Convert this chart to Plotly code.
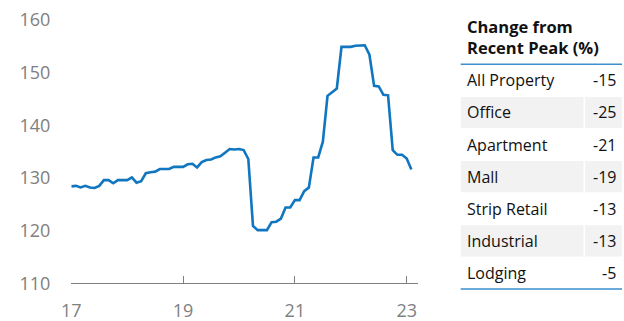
import plotly.graph_objects as go

# Monthly index values, Jan 2017 through Feb 2023
start_year = 2017
index_values = [
    128.4, 128.5, 128.2, 128.5, 128.2, 128.1, 128.5, 129.6, 129.6, 129.0, 129.6, 129.6,
    129.6, 130.1, 129.1, 129.4, 130.9, 131.1, 131.2, 131.7, 131.7, 131.7, 132.1, 132.1,
    132.1, 132.6, 132.7, 132.0, 133.0, 133.4, 133.5, 133.9, 134.1, 134.8, 135.5, 135.4,
    135.5, 135.3, 133.6, 120.9, 120.1, 120.1, 120.1, 121.6, 121.7, 122.3, 124.4, 124.4,
    125.8, 125.8, 127.5, 128.2, 133.9, 133.9, 136.9, 145.6, 146.3, 147.0, 154.9, 154.9,
    154.9, 155.1, 155.2, 155.2, 153.4, 147.5, 147.4, 145.8, 145.7, 135.3, 134.4, 134.4,
    133.7, 131.6,
]
x_years = [start_year + i / 12 for i in range(len(index_values))]

x_tick_vals = [2017, 2019, 2021, 2023]
x_tick_text = ["17", "19", "21", "23"]
y_tick_vals = [110, 120, 130, 140, 150, 160]

# Side table
table_title = "Change from<br>Recent Peak (%)"
sectors = ["All Property", "Office", "Apartment", "Mall", "Strip Retail", "Industrial", "Lodging"]
changes = [-15, -25, -21, -19, -13, -13, -5]

W, H = 624, 321
LINE_BLUE = "#0f76bf"
RULE_BLUE = "#3a8fd0"
GREY = "#808080"
FONT = "Open Sans"

def py(px):
    """Convert a pixel row (from top) to paper y."""
    return 1 - px / H

def pxx(px):
    return px / W

fig = go.Figure()
fig.add_trace(go.Scatter(
    x=x_years, y=index_values, mode="lines",
    line=dict(color=LINE_BLUE, width=2.6),
    hoverinfo="skip",
))

x0_px, x_tick23_px, x1_px = 71.3, 406.7, 417.7
px_per_year = (x_tick23_px - x0_px) / 6
x_end = 2017 + (x1_px - x0_px) / px_per_year

fig.update_layout(
    width=W, height=H,
    margin=dict(l=0, r=0, t=0, b=0),
    paper_bgcolor="white", plot_bgcolor="white",
    showlegend=False,
    font=dict(family=FONT, color=GREY, size=18),
    xaxis=dict(
        domain=[pxx(x0_px), pxx(x1_px)],
        range=[2017, x_end],
        automargin=False,
        tickvals=x_tick_vals, ticktext=x_tick_text,
        ticks="inside", ticklen=7, tickcolor=GREY, tickwidth=1,
        showline=True, linecolor=GREY, linewidth=1,
        showgrid=False, zeroline=False,
        tickfont=dict(size=18, color=GREY, family=FONT),
        ticklabelstandoff=11,
    ),
    yaxis=dict(
        domain=[py(283.3), py(20)],
        range=[110, 160],
        automargin=False,
        tickvals=y_tick_vals,
        ticks="", showline=False, showgrid=False, zeroline=False,
        tickfont=dict(size=18, color=GREY, family=FONT),
        ticklabelstandoff=20,
    ),
)

# Table geometry (pixels)
tbl_left, tbl_right, tbl_split = 460.7, 622.0, 584.3
top_rule, row_h = 64.3, 32.1
TXT = "#111111"

shapes = []
annotations = []

annotations.append(dict(
    x=pxx(464.5), y=py(37), xref="paper", yref="paper",
    text="<b>" + table_title + "</b>", showarrow=False,
    xanchor="left", yanchor="middle", align="left",
    font=dict(family=FONT, size=16.5, color=TXT),
))

for i, (name, val) in enumerate(zip(sectors, changes)):
    top = top_rule + i * row_h
    bottom = top + row_h
    mid = (top + bottom) / 2
    if i % 2 == 1:
        shapes.append(dict(type="rect", xref="paper", yref="paper",
                           x0=pxx(tbl_left), x1=pxx(tbl_split - 0.8),
                           y0=py(bottom - 0.5), y1=py(top + 0.5),
                           fillcolor="#f2f2f2", line=dict(width=0), layer="below"))
        shapes.append(dict(type="rect", xref="paper", yref="paper",
                           x0=pxx(tbl_split + 0.8), x1=pxx(tbl_right),
                           y0=py(bottom - 0.5), y1=py(top + 0.5),
                           fillcolor="#f2f2f2", line=dict(width=0), layer="below"))
    annotations.append(dict(
        x=pxx(464.5), y=py(mid), xref="paper", yref="paper",
        text=name, showarrow=False, xanchor="left", yanchor="middle",
        font=dict(family=FONT, size=16, color=TXT),
    ))
    annotations.append(dict(
        x=pxx(618), y=py(mid), xref="paper", yref="paper",
        text=str(val), showarrow=False, xanchor="right", yanchor="middle",
        font=dict(family=FONT, size=16, color=TXT),
    ))

for yy in (top_rule, top_rule + len(sectors) * row_h):
    shapes.append(dict(type="line", xref="paper", yref="paper",
                       x0=pxx(tbl_left), x1=pxx(tbl_right), y0=py(yy), y1=py(yy),
                       line=dict(color=RULE_BLUE, width=1.5)))

fig.update_layout(shapes=shapes, annotations=annotations)
fig.write_html("out.html")
